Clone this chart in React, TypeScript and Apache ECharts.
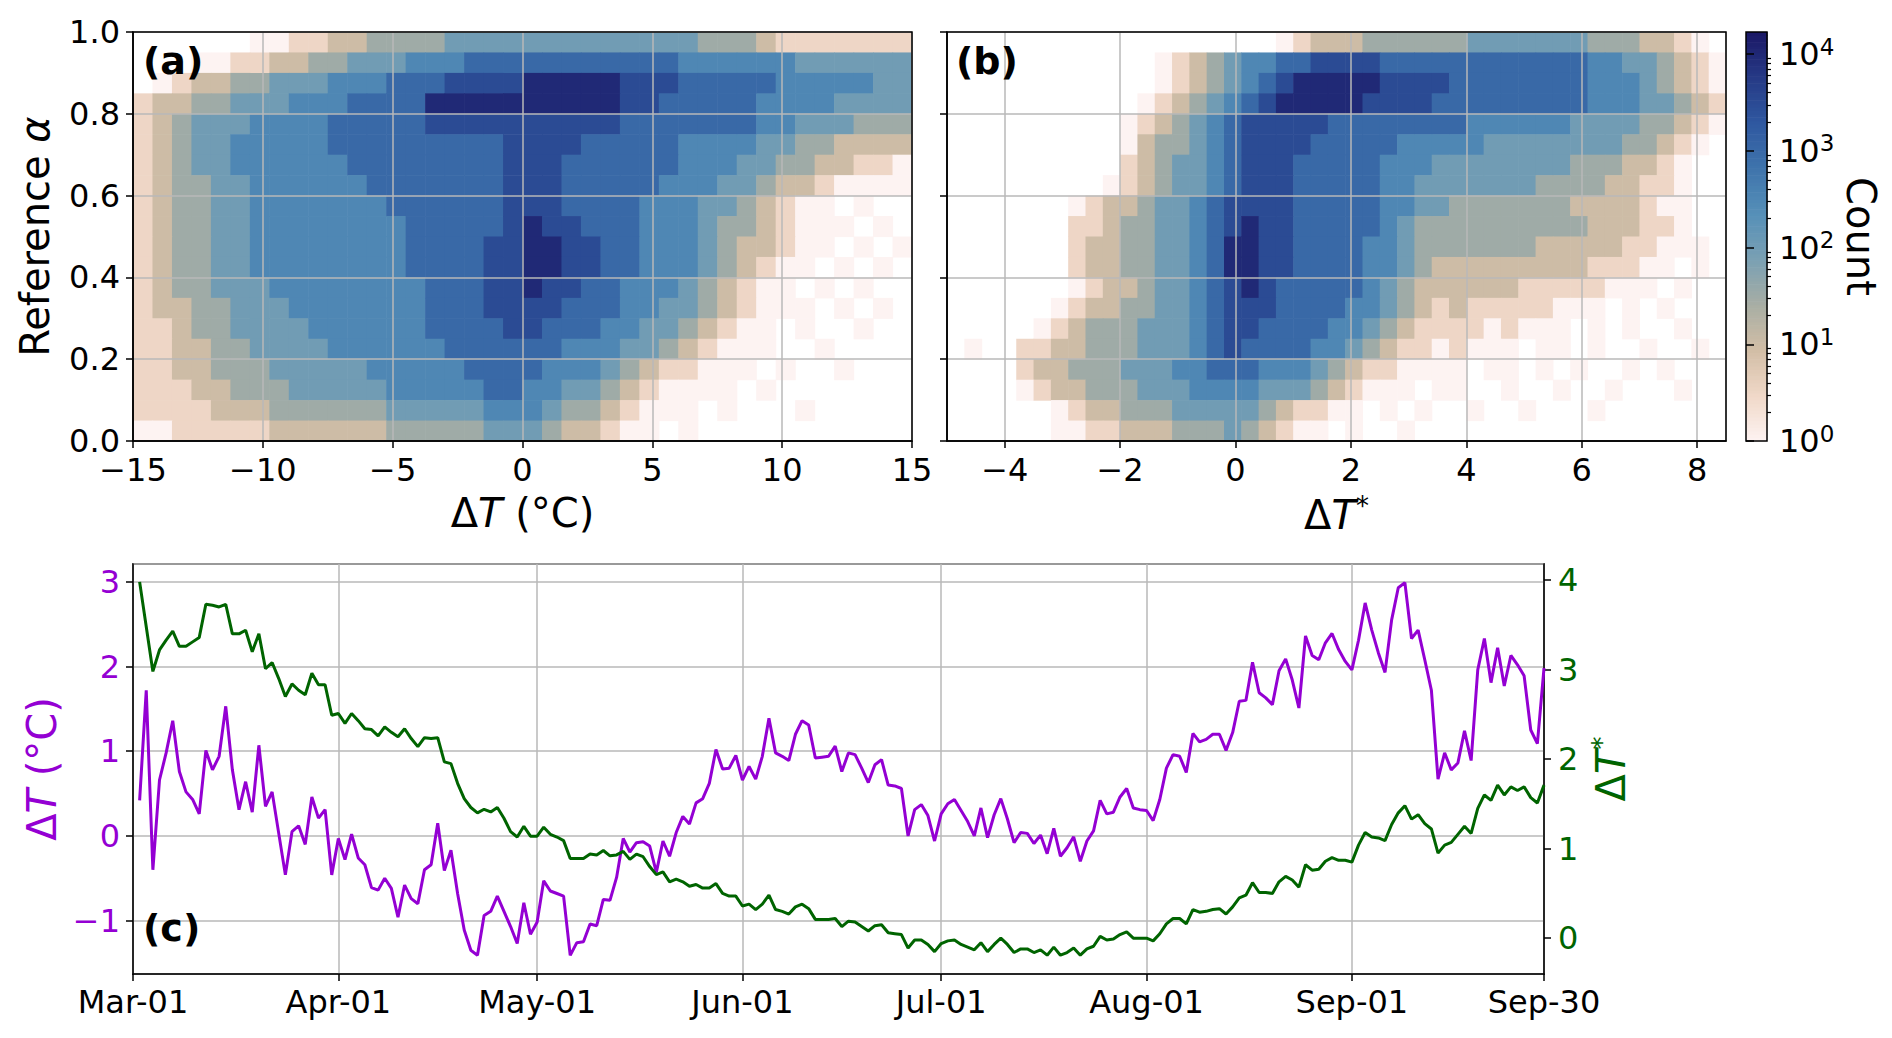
import { useEffect, useRef } from 'react';
import * as echarts from 'echarts';

const FONT = 'DejaVu Sans';
const PURPLE = '#9400d3';
const GREEN = '#006400';

const MONTHS = ['Mar', 'Apr', 'May', 'Jun', 'Jul', 'Aug', 'Sep'];
const MONTH_DAYS = [31, 30, 31, 30, 31, 31, 30];

// daily values, Mar-02 .. Sep-30
const DELTA_T = [
  0.42, 1.72, -0.40, 0.66, 0.98, 1.36, 0.76, 0.52, 0.43, 0.26,
  1.01, 0.78, 0.94, 1.53, 0.78, 0.31, 0.64, 0.28, 1.07, 0.35,
  0.52, 0.03, -0.46, 0.05, 0.12, -0.10, 0.46, 0.21, 0.31, -0.46,
  -0.03, -0.28, 0.02, -0.26, -0.34, -0.61, -0.64, -0.50, -0.62, -0.96,
  -0.58, -0.74, -0.80, -0.40, -0.34, 0.15, -0.41, -0.17, -0.68, -1.11,
  -1.35, -1.41,
  -0.94, -0.89, -0.71, -0.89, -1.07, -1.27, -0.79, -1.16, -1.02, -0.53,
  -0.65, -0.68, -0.71, -1.41, -1.26, -1.25, -1.04, -1.06, -0.75, -0.76,
  -0.49, -0.03, -0.19, -0.08, -0.07, -0.12, -0.43, -0.06, -0.24, 0.04,
  0.23, 0.14, 0.39, 0.44, 0.62, 1.02, 0.79, 0.80, 0.95, 0.66,
  0.82, 0.67, 0.94, 1.39, 0.98, 0.94, 0.89, 1.20, 1.36, 1.31,
  0.92, 0.93, 0.94, 1.06, 0.76, 0.98, 0.96, 0.80, 0.63,
  0.84, 0.90, 0.60, 0.59, 0.56, 0.00, 0.31, 0.37, 0.24, -0.06,
  0.26, 0.38, 0.43, 0.30, 0.17, 0.00, 0.33, -0.02, 0.25, 0.44,
  0.20, -0.08, 0.04, 0.03, -0.09, 0.01, -0.21, 0.09, -0.24, -0.14,
  -0.01, -0.30, -0.06, 0.06, 0.42, 0.26, 0.28, 0.46, 0.56, 0.33,
  0.31, 0.30, 0.18, 0.43, 0.80, 0.96, 0.94, 0.75, 1.21, 1.11,
  1.14, 1.20, 1.20,
  1.01, 1.22, 1.59, 1.60, 2.05, 1.69, 1.63, 1.55, 1.95, 2.09,
  1.84, 1.51, 2.36, 2.13, 2.08, 2.28, 2.39, 2.20, 2.06, 1.96,
  2.31, 2.75, 2.43, 2.16, 1.93, 2.55, 2.93, 2.99, 2.33, 2.43,
  2.08, 1.72, 0.67, 0.98, 0.78, 0.86, 1.24, 0.89, 1.96, 2.33,
  1.81, 2.22, 1.77, 2.13, 2.02, 1.89, 1.25, 1.09, 1.98,
];

const DELTA_T_STAR = [
  3.98, 3.48, 2.98, 3.22, 3.33, 3.43, 3.26, 3.26, 3.31, 3.36,
  3.73, 3.72, 3.70, 3.73, 3.40, 3.40, 3.44, 3.20, 3.40, 3.01,
  3.08, 2.90, 2.70, 2.84, 2.77, 2.72, 2.96, 2.83, 2.83, 2.49,
  2.51, 2.40, 2.51, 2.43, 2.34, 2.33, 2.26, 2.36, 2.30, 2.25,
  2.34, 2.23, 2.14, 2.24, 2.23, 2.24, 1.97, 1.95, 1.73, 1.56,
  1.46, 1.40,
  1.44, 1.41, 1.46, 1.34, 1.19, 1.13, 1.25, 1.14, 1.14, 1.24,
  1.16, 1.13, 1.09, 0.89, 0.89, 0.89, 0.94, 0.93, 0.98, 0.92,
  0.93, 0.97, 0.88, 0.94, 0.91, 0.80, 0.71, 0.74, 0.63, 0.66,
  0.63, 0.58, 0.60, 0.56, 0.56, 0.61, 0.50, 0.47, 0.47, 0.36,
  0.38, 0.32, 0.38, 0.48, 0.32, 0.30, 0.27, 0.35, 0.38, 0.33,
  0.21, 0.21, 0.21, 0.22, 0.13, 0.19, 0.18, 0.13, 0.08,
  0.14, 0.15, 0.06, 0.05, 0.04, -0.11, -0.02, -0.02, -0.07, -0.15,
  -0.06, -0.03, -0.02, -0.07, -0.10, -0.13, -0.05, -0.15, -0.07, 0.00,
  -0.07, -0.16, -0.12, -0.12, -0.16, -0.13, -0.19, -0.10, -0.19, -0.16,
  -0.11, -0.19, -0.12, -0.09, 0.02, -0.02, -0.01, 0.04, 0.07, 0.00,
  0.00, 0.00, -0.03, 0.05, 0.16, 0.22, 0.22, 0.16, 0.32, 0.29,
  0.30, 0.32, 0.33,
  0.27, 0.35, 0.45, 0.48, 0.62, 0.51, 0.51, 0.50, 0.63, 0.69,
  0.65, 0.57, 0.82, 0.76, 0.77, 0.86, 0.90, 0.87, 0.87, 0.85,
  1.04, 1.18, 1.13, 1.12, 1.09, 1.27, 1.40, 1.48, 1.33, 1.38,
  1.28, 1.22, 0.95, 1.04, 1.07, 1.16, 1.25, 1.17, 1.45, 1.60,
  1.54, 1.71, 1.60, 1.69, 1.65, 1.69, 1.57, 1.51, 1.71,
];

// 2D histograms: one string per alpha bin (top = 0.95-1.00), one char per x bin.
// char = log10(count) * 2, '.' = empty bin
const A_X_MIN = -15;
const A_X_STEP = 0.75;
const HIST_A = [
  '......0011223333444444444444433321111111',
  '...0011223344455566666666666555555444444',
  '.012233444555666777788888777666665555544',
  '1223344455566668888888888776666655554444',
  '1234445555666667777777777666666655444333',
  '1234455555666666666777766666555544332222',
  '1234455555566666666777666666555443322110',
  '1233445555556666666777666665554432210000',
  '123344555555566666677766665554432100.0..',
  '1233445555555566666787766655543321000.0.',
  '123344555555556666778877665554322100.0.0',
  '12334455555555666677887766555432100.0.0.',
  '1233444555555556667787766555432100.0.0..',
  '12233444555555566677776665544321000.0.0.',
  '112334444555555666677666554432100.0..0..',
  '112233444455555566666655544321000..0....',
  '11223334444455555666655543211000.0..0...',
  '1112233344444555556655443210000.0.......',
  '11112223333334444455543321000.0...0.....',
  '001111122222233333444322100.0...........',
];

const B_X_MIN = -5;
const B_X_STEP = 0.3;
const HIST_B = [
  '...................0122233333344444443332210.',
  '............012345566777766666666666655443210',
  '............012345678888877776666666655543210',
  '...........0123456788888777766666666655544321',
  '..........01234567777766666666555555444433210',
  '..........0233456777766666555554444444433210.',
  '..........123445677766666555444444443332210..',
  '.........0123445677766666554444444333322110..',
  '.......012234456777766666554433333332222100..',
  '.......112334456787766666543333333333222110..',
  '.......1223344568877666655433333332222211000.',
  '.......12233445688776666554322222222211100.0.',
  '.......0122344567876666654322222211111000.0..',
  '......01223344567776666554321211111000.0.0...',
  '.....0123334445677666655432111101000.0.0..0..',
  '.0..11223334445676666554321101000.00.0..0..0.',
  '....12233344455666555432110000.00.0.0..0.0...',
  '....01223334445555444321000.00..0..0..0...0..',
  '......012233344444321100.0.0..0..0...0.......',
  '......0011222333432100.0..0..................',
];

const Y_STEP = 0.05;
const LOG_MAX = 4.23;
const CMAP = ['#fdf3f2', '#f0d8c8', '#d2bea6', '#a8aea4', '#7aa0b3', '#5690b8', '#3f74ac', '#2f58a0', '#263a86', '#1b1866'];

const DATES = MONTHS.flatMap((m, i) =>
  Array.from({ length: MONTH_DAYS[i] }, (_, d) => `${m}-${String(d + 1).padStart(2, '0')}`)
);

function histCells(rows: string[], xMin: number, xStep: number) {
  const out: number[][] = [];
  rows.forEach((row, r) => {
    for (let c = 0; c < row.length; c++) {
      const ch = row[c];
      if (ch === '.') continue;
      const x0 = xMin + c * xStep;
      const y1 = 1 - r * Y_STEP;
      out.push([x0, x0 + xStep, y1 - Y_STEP, y1, Number(ch) / 2]);
    }
  });
  return out;
}

const minus = (v: number | string) => String(v).replace('-', '\u2212');

const rich = (color: string) => ({
  n: { fontSize: 40, fontFamily: FONT, color },
  i: { fontSize: 40, fontFamily: FONT, fontStyle: 'italic', color },
  s: { fontSize: 26, fontFamily: FONT, color, verticalAlign: 'top', lineHeight: 44 },
});

const tickLabel = (color = '#000') => ({
  fontSize: 32,
  lineHeight: 30,
  fontFamily: FONT,
  color,
});

const panelTitle = { fontSize: 38, fontWeight: 'bold', fontFamily: FONT, color: '#000' };

export default function App() {
  const ref = useRef<HTMLDivElement>(null);

  useEffect(() => {
    if (!ref.current) return;
    document.body.style.margin = '0';
    const chart = echarts.init(ref.current, null, { renderer: 'svg' });

    const renderCell = (_params: any, api: any) => {
      const a = api.coord([api.value(0), api.value(3)]);
      const b = api.coord([api.value(1), api.value(2)]);
      return {
        type: 'rect',
        shape: { x: a[0], y: a[1], width: b[0] - a[0] + 0.6, height: b[1] - a[1] + 0.6 },
        style: { fill: api.visual('color') },
      };
    };

    const colorbarCells: number[][] = [];
    const N = 120;
    for (let k = 0; k < N; k++) {
      colorbarCells.push([0, 1, (k * LOG_MAX) / N, ((k + 1) * LOG_MAX) / N, ((k + 0.5) * LOG_MAX) / N]);
    }
    const minorTicks: number[] = [];
    for (let e = 0; e < 5; e++) {
      for (let m = 2; m <= 9; m++) {
        const v = Math.log10(m * Math.pow(10, e));
        if (v < LOG_MAX) minorTicks.push(v);
      }
    }

    const black = { color: '#000', width: 1.5 };
    const grid = { show: true, borderColor: '#000', borderWidth: 1.5, z: 10 };
    const split = { show: true, lineStyle: { color: '#b8b8b8', width: 1.5 } };
    const showDate = (i: number, v: string) => v.endsWith('-01') || i === DATES.length - 1;

    const option: any = {
      animation: false,
      backgroundColor: '#fff',
      title: [
        { text: '(a)', left: 143, top: 42, padding: 0, textStyle: panelTitle },
        { text: '(b)', left: 956, top: 42, padding: 0, textStyle: panelTitle },
        { text: '(c)', left: 143, top: 909, padding: 0, textStyle: panelTitle },
      ],
      grid: [
        { left: 133, top: 32, width: 779, height: 409, ...grid },
        { left: 947, top: 32, width: 779, height: 409, ...grid },
        { left: 1746, top: 32, width: 21, height: 409, ...grid },
        { left: 133, top: 564, width: 1411, height: 410, ...grid, z: 0 },
      ],
      visualMap: {
        type: 'continuous',
        show: false,
        min: 0,
        max: LOG_MAX,
        dimension: 4,
        seriesIndex: [0, 1, 2],
        inRange: { color: CMAP },
      },
      xAxis: [
        {
          gridIndex: 0, type: 'value', min: -15, max: 15, interval: 5, z: 5,
          axisLine: { show: true, onZero: false, lineStyle: black },
          axisTick: { show: true, length: 7, lineStyle: black },
          axisLabel: { ...tickLabel(), margin: 14, formatter: minus },
          splitLine: split,
          name: '{n|Δ}{i|T}{n| (°C)}', nameLocation: 'middle', nameGap: 52,
          nameTextStyle: { rich: rich('#000') },
        },
        {
          gridIndex: 1, type: 'value', min: -5, max: 8.5, splitNumber: 7, z: 5,
          axisLine: { show: true, onZero: false, lineStyle: black },
          axisTick: { show: true, length: 7, lineStyle: black },
          axisLabel: { ...tickLabel(), margin: 14, formatter: minus, showMinLabel: false, showMaxLabel: false },
          splitLine: split,
          name: '{n|Δ}{i|T}{s|*}', nameLocation: 'middle', nameGap: 52,
          nameTextStyle: { rich: rich('#000') },
        },
        { gridIndex: 2, type: 'value', min: 0, max: 1, show: false },
        {
          gridIndex: 3, type: 'category', data: DATES, boundaryGap: false,
          axisLine: { show: true, onZero: false, lineStyle: black },
          axisTick: { show: true, length: 7, interval: showDate, lineStyle: black },
          axisLabel: { ...tickLabel(), margin: 13, interval: showDate },
          splitLine: { ...split, interval: showDate },
        },
      ],
      yAxis: [
        {
          gridIndex: 0, type: 'value', min: 0, max: 1, interval: 0.2, z: 5,
          axisLine: { show: true, onZero: false, lineStyle: black },
          axisTick: { show: true, length: 7, lineStyle: black },
          axisLabel: { ...tickLabel(), margin: 13, formatter: (v: number) => v.toFixed(1) },
          splitLine: split,
          name: '{n|Reference }{i|α}', nameLocation: 'middle', nameGap: 78,
          nameTextStyle: { rich: rich('#000') },
        },
        {
          gridIndex: 1, type: 'value', min: 0, max: 1, interval: 0.2, z: 5,
          axisLine: { show: true, onZero: false, lineStyle: black },
          axisTick: { show: true, length: 7, lineStyle: black },
          axisLabel: { show: false },
          splitLine: split,
        },
        {
          gridIndex: 2, type: 'value', min: 0, max: LOG_MAX, splitNumber: 5, position: 'right', z: 5,
          axisLine: { show: false },
          axisTick: { show: true, length: 8, lineStyle: black },
          axisLabel: {
            fontSize: 32, fontFamily: FONT, color: '#000', margin: 12, showMaxLabel: false,
            formatter: (v: number) => `10{s|${v}}`,
            rich: { s: { fontSize: 23, fontFamily: FONT, color: '#000', verticalAlign: 'top', lineHeight: 38 } },
          },
          splitLine: { show: false },
          name: 'Count', nameLocation: 'middle', nameGap: 74, nameRotate: -90,
          nameTextStyle: { fontSize: 40, fontFamily: FONT, color: '#000' },
        },
        {
          gridIndex: 2, type: 'value', min: 0, max: LOG_MAX, position: 'right', z: 5,
          axisLine: { show: false },
          axisTick: { show: true, length: 4, customValues: minorTicks, lineStyle: { color: '#000', width: 1.2 } },
          axisLabel: { show: false },
          splitLine: { show: false },
        },
        {
          gridIndex: 3, type: 'value', min: -1.63, max: 3.21, splitNumber: 5, position: 'left',
          axisLine: { show: true, onZero: false, lineStyle: black },
          axisTick: { show: true, length: 7, lineStyle: black },
          axisLabel: { ...tickLabel(PURPLE), margin: 13, formatter: minus, showMinLabel: false, showMaxLabel: false },
          splitLine: split,
          name: '{n|Δ}{i|T}{n| (°C)}', nameLocation: 'middle', nameGap: 70,
          nameTextStyle: { rich: rich(PURPLE) },
        },
        {
          gridIndex: 3, type: 'value', min: -0.4, max: 4.18, splitNumber: 5, position: 'right',
          axisLine: { show: true, onZero: false, lineStyle: black },
          axisTick: { show: true, length: 7, lineStyle: black },
          axisLabel: { ...tickLabel(GREEN), margin: 14, formatter: minus, showMinLabel: false, showMaxLabel: false },
          splitLine: { show: false },
          name: '{n|Δ}{i|T}{s|*}', nameLocation: 'middle', nameGap: 35, nameRotate: 90,
          nameTextStyle: { rich: rich(GREEN) },
        },
      ],
      series: [
        {
          type: 'custom', xAxisIndex: 0, yAxisIndex: 0, renderItem: renderCell, clip: true,
          encode: { x: [0, 1], y: [2, 3] }, data: histCells(HIST_A, A_X_MIN, A_X_STEP), z: 1,
        },
        {
          type: 'custom', xAxisIndex: 1, yAxisIndex: 1, renderItem: renderCell, clip: true,
          encode: { x: [0, 1], y: [2, 3] }, data: histCells(HIST_B, B_X_MIN, B_X_STEP), z: 1,
        },
        {
          type: 'custom', xAxisIndex: 2, yAxisIndex: 2, renderItem: renderCell,
          encode: { x: [0, 1], y: [2, 3] }, data: colorbarCells, z: 1,
        },
        {
          type: 'line', xAxisIndex: 3, yAxisIndex: 4, data: [null, ...DELTA_T],
          symbol: 'none', lineStyle: { color: PURPLE, width: 3 }, itemStyle: { color: PURPLE }, z: 3,
        },
        {
          type: 'line', xAxisIndex: 3, yAxisIndex: 5, data: [null, ...DELTA_T_STAR],
          symbol: 'none', lineStyle: { color: GREEN, width: 3 }, itemStyle: { color: GREEN }, z: 4,
        },
      ],
    };

    chart.setOption(option);
    return () => chart.dispose();
  }, []);

  return <div ref={ref} style={{ width: 1892, height: 1038 }} />;
}
